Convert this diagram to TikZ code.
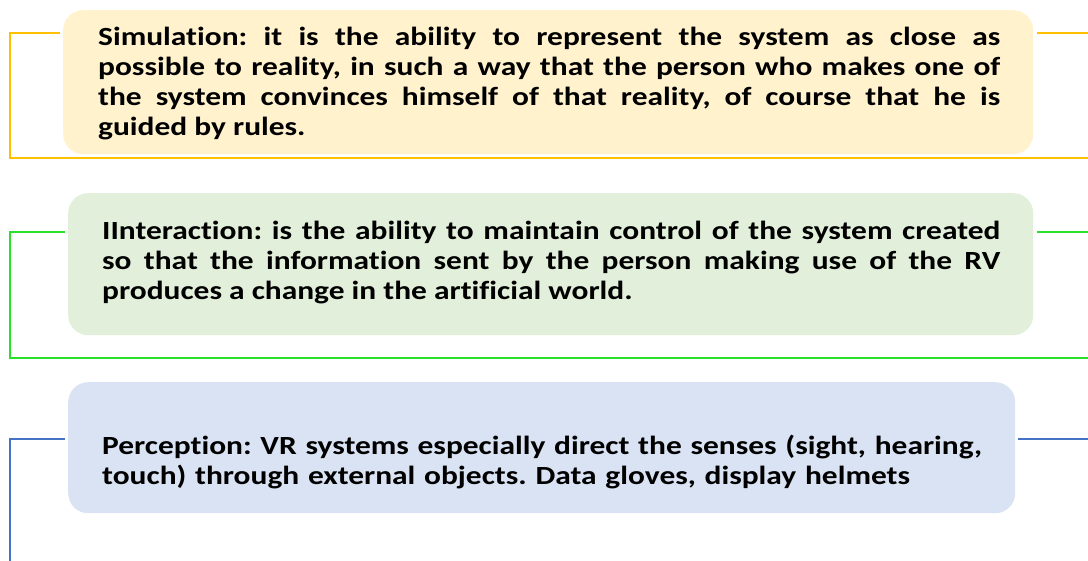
\documentclass[tikz,border=0pt]{standalone}
\usepackage{fontspec}
\setmainfont{Carlito}[FakeStretch=1.2, Ligatures=NoCommon]
\frenchspacing
\definecolor{fillY}{HTML}{FFF2CC}
\definecolor{fillG}{HTML}{E2EFDA}
\definecolor{fillB}{HTML}{DAE3F3}
\definecolor{lineY}{HTML}{FFC000}
\definecolor{lineG}{RGB}{40,225,40}
\definecolor{lineB}{HTML}{4472C4}
\begin{document}
\begin{tikzpicture}[x=1pt,y=-1pt,
  box/.style={rounded corners=20pt, draw=none, inner sep=0pt, anchor=north west},
  txt/.style={inner sep=0pt, anchor=base west, text width=902pt, align=justify,
    font=\fontsize{26.2}{30}\selectfont\bfseries\frenchspacing},
  txtl/.style={txt, align=left},
  bline/.style={line width=2.5pt}]
\useasboundingbox (0,0) rectangle (1088,561);
\fill[white] (0,0) rectangle (1088,561);

% boxes
\node[box, fill=fillY, minimum width=970pt, minimum height=144pt] (b1) at (63,10) {};
\node[box, fill=fillG, minimum width=965pt, minimum height=142pt] (b2) at (68,193) {};
\node[box, fill=fillB, minimum width=947pt, minimum height=131pt] (b3) at (68,382) {};

% texts
\node[txt] (t1) at (98,46) {Simulation: it is the ability to represent the system as close as\linebreak
possible to reality, in such a way that the person who makes one of\linebreak
the system convinces himself of that reality, of course that he is\linebreak
guided by rules.};
\node[txt, text width=898pt] (t2) at (102,240) {IInteraction: is the ability to maintain control of the system created\linebreak
so that the information sent by the person making use of the RV\linebreak
produces a change in the artificial world.};
\node[txtl, text width=898pt] (t3) at (102,455) {Perception: VR systems especially direct the senses (sight, hearing,\\
touch) through external objects. Data gloves, display helmets};

% bracket lines
\coordinate (y1) at (60,33);  \coordinate (y2) at (10,158); \coordinate (y3) at (1088,158);
\coordinate (y4) at (1037,33); \coordinate (y5) at (1088,33);
\draw[bline, lineY] (y1) -| (y2) -- (y3);
\draw[bline, lineY] (y4) -- (y5);

\coordinate (g1) at (65,232);  \coordinate (g2) at (10,358); \coordinate (g3) at (1088,358);
\coordinate (g4) at (1037,232); \coordinate (g5) at (1088,232);
\draw[bline, lineG] (g1) -| (g2) -- (g3);
\draw[bline, lineG] (g4) -- (g5);

\coordinate (u1) at (65,439);  \coordinate (u2) at (10,561);
\coordinate (u4) at (1018,439); \coordinate (u5) at (1088,439);
\draw[bline, lineB] (u1) -| (u2);
\draw[bline, lineB] (u4) -- (u5);
\end{tikzpicture}
\end{document}
